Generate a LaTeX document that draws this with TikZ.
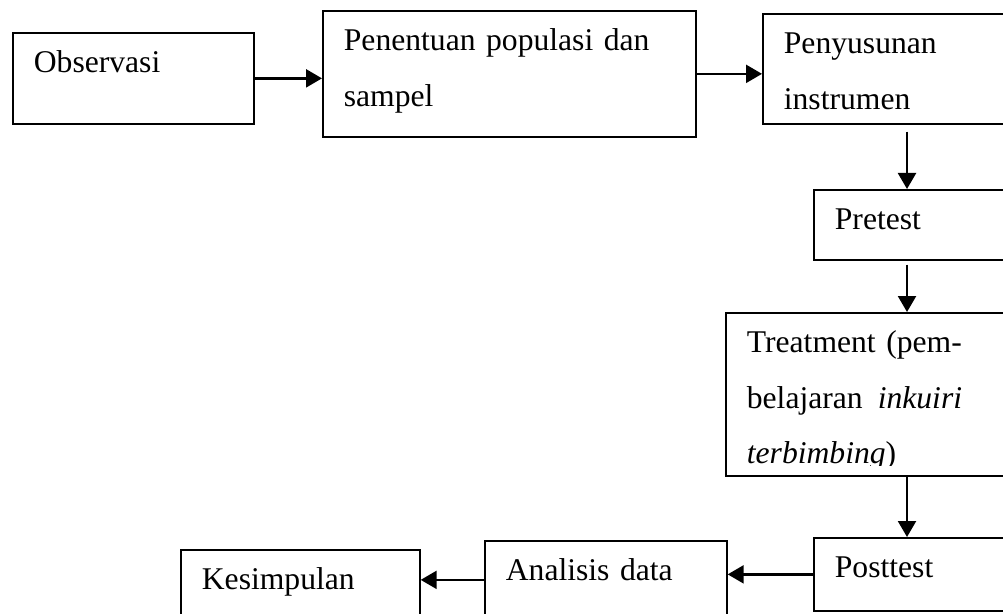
\documentclass[tikz,border=0pt]{standalone}
\usepackage{fontspec}
\setmainfont{Liberation Serif}
\usepackage{tikz}
\usetikzlibrary{arrows.meta}
\usepackage{trimclip}

\tikzset{
  flowbox/.style={draw,line width=1pt,rectangle,anchor=north west,align=left,
    inner xsep=0.42cm,inner ysep=0pt,text height=0.8cm,
    font=\fontsize{18}{31.6}\selectfont},
  flowarrow/.style={line width=1.3pt,-{Triangle[length=0.32cm,width=0.36cm]}}
}

\begin{document}
\begin{tikzpicture}[x=0.02cm,y=-0.02cm]
\useasboundingbox (0,0) rectangle (1003,614);
\clip (0,0) rectangle (1003,614);

\node [flowbox,text width=3.98cm,text depth=1.02cm] (v1) at (12,32) {Observasi};
\node [flowbox,text width=6.62cm,text depth=1.72cm] (v2) at (322,10) {Penentuan populasi dan\\sampel};
\node [flowbox,text width=4.36cm,text depth=1.4cm] (v3) at (762,13) {Penyusunan\\instrumen};
\node [flowbox,text width=3.36cm,text depth=0.6cm] (v4) at (813,189) {Pretest};
\node [flowbox,text width=5.1cm,text depth=2.46cm] (v5) at (725,312) {Treatment (pem-\\belajaran\hspace{0.3cm}\textit{inkuiri}\\\clipbox{0pt 0.1cm 0pt 0pt}{\textit{terbimbing})}};
\node [flowbox,text width=3.36cm,text depth=0.66cm] (v6) at (813,537) {Posttest};
\node [flowbox,text width=4.0cm,text depth=0.76cm] (v7) at (484,540) {Analisis data};
\node [flowbox,text width=3.94cm,text depth=0.8cm] (v8) at (180,549) {Kesimpulan};
\coordinate (c1) at (907,0);

\draw [flowarrow] (v1.east) -- (v1.east -| v2.west);
\draw [flowarrow] (v2.east) -- (v2.east -| v3.west);
\draw [flowarrow,shorten <=0.14cm] (v3.south -| c1) -- (v4.north -| c1);
\draw [flowarrow,shorten <=0.08cm] (v4.south -| c1) -- (v5.north -| c1);
\draw [flowarrow] (v5.south -| c1) -- (v6.north -| c1);
\draw [flowarrow] (v6.west) -- (v6.west -| v7.east);
\draw [flowarrow] (v7.west) -- (v7.west -| v8.east);
\end{tikzpicture}
\end{document}
